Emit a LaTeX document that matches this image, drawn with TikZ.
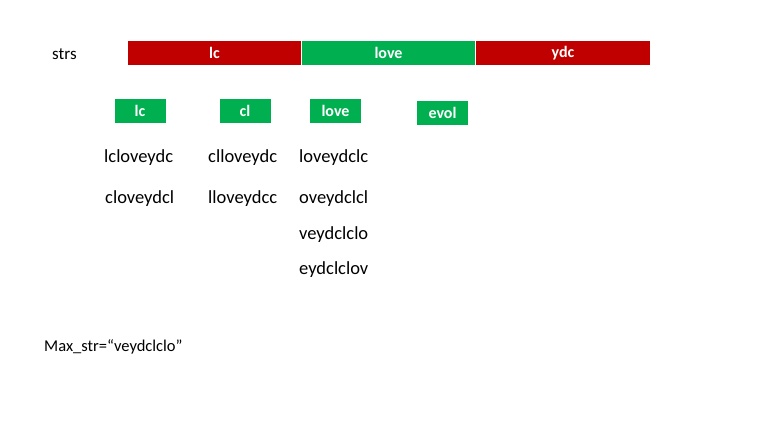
\documentclass[tikz,border=0pt]{standalone}
\usepackage{fontspec}
\setmainfont{Carlito}
\begin{document}
\begin{tikzpicture}[x=1pt,y=-1pt]
\definecolor{pptred}{HTML}{C00000}
\definecolor{pptgreen}{HTML}{00B050}
\tikzset{
  seg/.style={draw=none,minimum height=24pt,inner sep=0pt,text=white,font=\fontsize{16}{18}\selectfont\bfseries},
  redseg/.style={seg,fill=pptred},
  greenseg/.style={seg,fill=pptgreen},
  tag/.style={fill=pptgreen,minimum width=51pt,minimum height=24pt,inner sep=0pt,text=white,font=\fontsize{16}{18}\selectfont\bfseries},
  word/.style={inner sep=0pt,anchor=west,font=\fontsize{18.5}{20}\selectfont}}
\useasboundingbox (0,0) rectangle (784,441);
\node[word,font=\fontsize{17}{19}\selectfont] (strs) at (52,54) {strs};
\node[redseg,minimum width=173pt] (s1) at (214.5,53) {lc};
\node[greenseg,minimum width=173pt] (s2) at (388.5,53) {love};
\node[redseg,minimum width=174pt] (s3) at (563,53) {ydc};
\node[tag] (t1) at (140,111) {lc};
\node[tag] (t2) at (245,111) {cl};
\node[tag] (t3) at (335.5,111) {love};
\node[tag] (t4) at (442.5,113) {evol};
\node[word] (a1) at (104,158) {lcloveydc};
\node[word] (a2) at (105,199) {cloveydcl};
\node[word] (b1) at (208,158) {clloveydc};
\node[word] (b2) at (208,199) {lloveydcc};
\node[word] (c1) at (299,158) {loveydclc};
\node[word] (c2) at (299,199) {oveydclcl};
\node[word] (c3) at (299,235) {veydclclo};
\node[word] (c4) at (299,270) {eydclclov};
\node[word,font=\fontsize{16.5}{18}\selectfont] (mx) at (44,347) {Max\_str=“veydclclo”};
\end{tikzpicture}
\end{document}
